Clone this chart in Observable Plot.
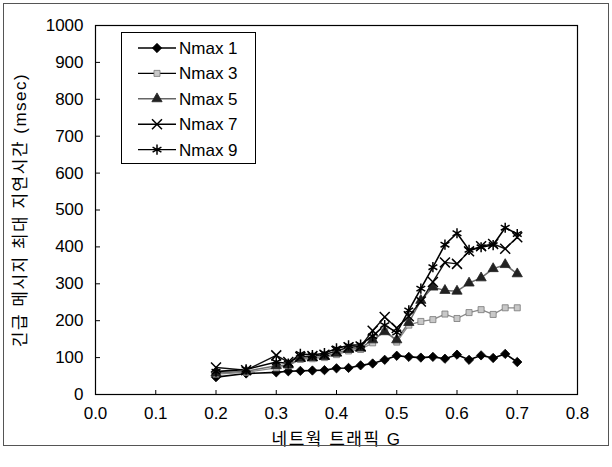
<!DOCTYPE html>
<html>
<head>
<meta charset="utf-8">
<script src="https://cdn.jsdelivr.net/npm/d3@7"></script>
<script src="https://cdn.jsdelivr.net/npm/@observablehq/plot@0.6"></script>
<style>
  body { margin: 0; background: #fff; }
  #chart { width: 612px; height: 467px; }
</style>
</head>
<body>
<div id="chart"></div>
<script>
// Network traffic load G (x) and maximum emergency-message delay in msec (y)
const traffic = [0.2, 0.25, 0.3, 0.32, 0.34, 0.36, 0.38, 0.40, 0.42, 0.44, 0.46, 0.48,
                 0.50, 0.52, 0.54, 0.56, 0.58, 0.60, 0.62, 0.64, 0.66, 0.68, 0.70];
const nmax1 = [47, 57, 60, 63, 64, 65, 66, 71, 72, 79, 84, 94,
               105, 102, 100, 102, 97, 108, 94, 106, 99, 110, 88];
const nmax3 = [55, 60, 72, 78, 95, 97, 100, 108, 118, 122, 140, 178,
               142, 188, 198, 203, 218, 206, 222, 230, 217, 235, 235];
const nmax5 = [58, 63, 78, 80, 98, 100, 103, 112, 122, 126, 148, 170,
               148, 195, 255, 291, 282, 280, 302, 316, 341, 352, 327];
const nmax7 = [73, 66, 106, 88, 102, 104, 108, 118, 128, 130, 173, 210,
               180, 212, 252, 305, 358, 354, 388, 402, 408, 395, 426];
const nmax9 = [62, 68, 88, 84, 110, 107, 112, 125, 133, 135, 158, 188,
               168, 228, 287, 345, 406, 437, 392, 399, 405, 452, 435];

const seriesNames = ["Nmax 1", "Nmax 3", "Nmax 5", "Nmax 7", "Nmax 9"];
const seriesValues = [nmax1, nmax3, nmax5, nmax7, nmax9];

const xTicks = [0, 0.1, 0.2, 0.3, 0.4, 0.5, 0.6, 0.7, 0.8];
const yTicks = [0, 100, 200, 300, 400, 500, 600, 700, 800, 900, 1000];

const xTitle = "네트웍 트래픽 G";
const yTitle = "긴급 메시지 최대 지연시간 (msec)";

// Per-series drawing style: line colour and marker
const styles = {
  "Nmax 1": {line: "#000", width: 1.6, symbol: "diamond2", fill: "#000", stroke: "#000", r: 4.2},
  "Nmax 3": {line: "#8a8a8a", width: 1.3, symbol: "square", fill: "#c8c8c8", stroke: "#777", r: 3.4},
  "Nmax 5": {line: "#6e6e6e", width: 1.5, symbol: "triangle", fill: "#222", stroke: "#222", r: 3.8},
  "Nmax 7": {line: "#111", width: 1.4, symbol: "times", fill: "none", stroke: "#000", r: 4.6},
  "Nmax 9": {line: "#000", width: 1.6, symbol: "asterisk", fill: "none", stroke: "#000", r: 4.8}
};
const d3Symbols = {
  diamond2: d3.symbolDiamond2, square: d3.symbolSquare, triangle: d3.symbolTriangle,
  times: d3.symbolTimes, asterisk: d3.symbolAsterisk
};

const rows = seriesNames.flatMap((name, i) =>
  traffic.map((g, j) => ({series: name, g, delay: seriesValues[i][j]})));

const FONT = "'Liberation Sans', Arial, 'Noto Sans CJK KR', sans-serif";

const marks = [Plot.frame({stroke: "#000", strokeWidth: 1.2})];
for (const name of seriesNames) {
  const s = styles[name];
  const data = rows.filter(d => d.series === name);
  marks.push(Plot.line(data, {x: "g", y: "delay", stroke: s.line, strokeWidth: s.width}));
}
for (const name of seriesNames) {
  const s = styles[name];
  const data = rows.filter(d => d.series === name);
  marks.push(Plot.dot(data, {
    x: "g", y: "delay", symbol: () => s.symbol, r: s.r,
    fill: s.fill, stroke: s.stroke, strokeWidth: s.fill === "none" ? 1.5 : 0.8
  }));
}
marks.push(
  Plot.axisX({ticks: xTicks, tickSize: -4, tickPadding: 16, tickFormat: d3.format(".1f"),
              label: xTitle, labelAnchor: "center", labelOffset: 50, fontSize: 17}),
  Plot.axisY({ticks: yTicks, tickSize: -5, tickPadding: 17, tickFormat: d => String(d),
              label: yTitle, labelAnchor: "center", labelOffset: 82, fontSize: 17})
);

const chart = Plot.plot({
  width: 612,
  height: 467,
  marginLeft: 95,
  marginRight: 35,
  marginTop: 25,
  marginBottom: 73,
  style: {fontFamily: FONT, fontSize: "17px", color: "#000", background: "#fff"},
  x: {domain: [0, 0.8]},
  y: {domain: [0, 1000]},
  symbol: {type: "identity"},
  marks
});

const svg = d3.select(chart);

// Axis titles as plain text, without direction arrows
svg.select("g[aria-label='x-axis label'] text").text(xTitle)
  .style("letter-spacing", "1.5px");
svg.select("g[aria-label='y-axis label'] text").text(yTitle)
  .style("letter-spacing", "1.5px");

// Outer border around the figure
svg.append("rect")
  .attr("x", 3.5).attr("y", 3.5).attr("width", 605).attr("height", 442)
  .attr("fill", "none").attr("stroke", "#555").attr("stroke-width", 1);

// Legend box in the upper left of the plot area
const legend = svg.append("g")
  .attr("font-family", FONT).attr("font-size", 17).attr("text-anchor", "start");
legend.append("rect")
  .attr("x", 121.5).attr("y", 32.5).attr("width", 134).attr("height", 131)
  .attr("fill", "#fff").attr("stroke", "#000").attr("stroke-width", 1);
seriesNames.forEach((name, i) => {
  const s = styles[name];
  const cy = 48 + i * 25.4;
  legend.append("line")
    .attr("x1", 138).attr("x2", 176).attr("y1", cy).attr("y2", cy)
    .attr("stroke", i === 2 ? "#666" : "#000").attr("stroke-width", 1.4);
  legend.append("path")
    .attr("transform", `translate(157,${cy})`)
    .attr("d", d3.symbol(d3Symbols[s.symbol], Math.PI * s.r * s.r)())
    .attr("fill", s.fill).attr("stroke", s.stroke)
    .attr("stroke-width", s.fill === "none" ? 1.5 : 0.8);
  legend.append("text")
    .attr("x", 179).attr("y", cy).attr("dy", "0.35em")
    .text(name);
});

document.getElementById("chart").appendChild(chart);
</script>
</body>
</html>
